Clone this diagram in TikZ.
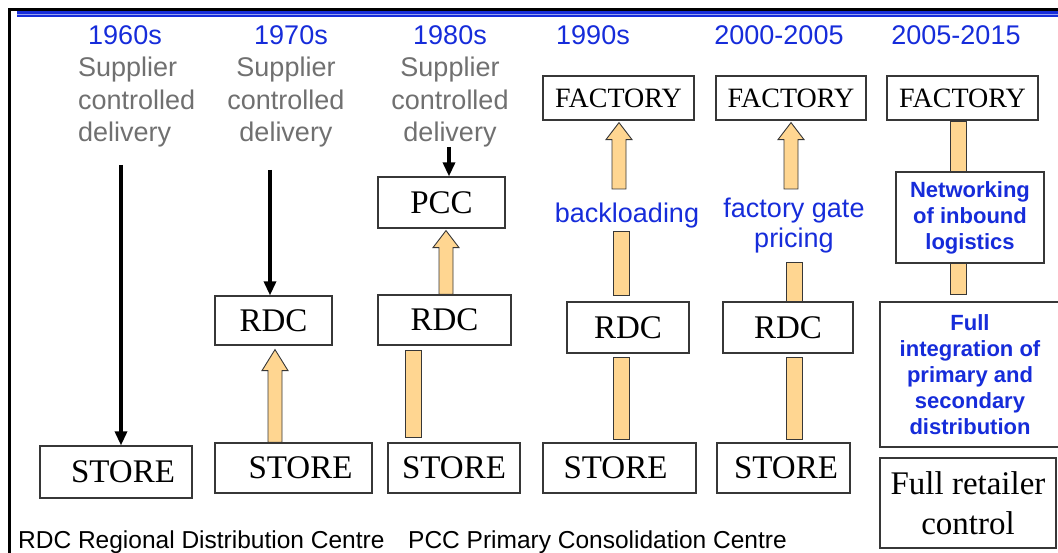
\documentclass[tikz,border=0pt]{standalone}
\usepackage{fontspec}
\setmainfont{Liberation Serif}
\newfontfamily\arial{Liberation Sans}
\usetikzlibrary{calc,arrows.meta}

\definecolor{eraBlue}{RGB}{22,44,218}
\definecolor{noteGray}{RGB}{112,112,112}
\definecolor{flowFill}{RGB}{255,214,145}
\definecolor{edgeGray}{RGB}{55,55,55}

% upward block arrow: optional head length, foot point, tip point
\newcommand{\blockup}[3][17]{%
  \draw[flow] let \p1=(#2), \p2=(#3) in
    (\x2-7pt,\y1) -- (\x2-7pt,\y2-#1pt) -- (\x2-13pt,\y2-#1pt) -- (\x2,\y2)
    -- (\x2+13pt,\y2-#1pt) -- (\x2+7pt,\y2-#1pt) -- (\x2+7pt,\y1) -- cycle;}
% plain bar between two points (x from the first, y span from both)
\newcommand{\flowbar}[2]{%
  \draw[flow] let \p1=(#1), \p2=(#2) in (\x1-8pt,\y1) rectangle (\x1+8pt,\y2);}

\begin{document}
\begin{tikzpicture}[x=1pt,y=-1pt,
  era/.style={font=\arial\fontsize{27}{32}\selectfont, text=eraBlue, anchor=base, inner sep=0pt},
  note/.style={font=\arial\fontsize{27}{32.5}\selectfont, text=noteGray, align=center, inner sep=0pt, anchor=north},
  tag/.style={font=\arial\fontsize{27}{30}\selectfont, text=eraBlue, align=center, inner sep=0pt, anchor=north},
  site/.style={draw=edgeGray, line width=1.2pt, fill=white, inner sep=0pt,
    font=\fontsize{33}{38}\selectfont},
  factory/.style={site, font=\fontsize{28}{32}\selectfont, minimum height=44pt},
  bluebox/.style={draw=edgeGray, line width=1.2pt, fill=white, inner sep=0pt, align=center,
    text=eraBlue, font=\arial\bfseries\fontsize{22}{26}\selectfont},
  flow/.style={draw=edgeGray, line width=0.9pt, fill=flowFill},
  push/.style={line width=3.2pt, -{Triangle[length=14pt,width=12pt]}},
  legend/.style={font=\arial\fontsize{24.5}{28}\selectfont, anchor=base west, inner sep=0pt}]

\useasboundingbox (0,0) rectangle (1058,553);

% frame and heading rule
\draw[line width=3pt] (9,553) -- (9,9.5) -- (1058,9.5);
\fill[eraBlue] (17,11.5) rectangle (1058,17.5);
\draw[eraBlue!45!white, line width=0.8pt] (17,14.3) -- (1058,14.3);

% decade headings
\node[era] (e1) at (125,45) {1960s};
\node[era] (e2) at (291,45) {1970s};
\node[era] (e3) at (450,45) {1980s};
\node[era] (e4) at (593,45) {1990s};
\node[era] (e5) at (779,45) {2000-2005};
\node[era] (e6) at (956,45) {2005-2015};

% supplier notes
\node[note, align=left, anchor=north west] (n1) at (78,57) {Supplier\\controlled\\delivery};
\node[note] (n2) at (286,57) {Supplier\\controlled\\delivery};
\node[note] (n3) at (450,57) {Supplier\\controlled\\delivery};

% stores
\node[site, minimum width=152pt, minimum height=52pt] (store1) at (116,472) {\hspace*{14pt}STORE};
\node[site, minimum width=157pt, minimum height=50pt] (store2) at (293.5,468) {\hspace*{14pt}STORE};
\node[site, minimum width=132pt, minimum height=50pt] (store3) at (454,468) {STORE};
\node[site, minimum width=153pt, minimum height=50pt] (store4) at (619.5,468) {STORE\hspace*{8pt}};
\node[site, minimum width=133pt, minimum height=50pt] (store5) at (783.5,468) {\hspace*{5pt}STORE};
\node[site, minimum width=176pt, minimum height=90pt, align=center,
      font=\fontsize{33}{40}\selectfont] (retail) at (968,503) {Full retailer\\control};

% regional distribution centres
\node[site, minimum width=117pt, minimum height=49pt] (rdc2) at (273.5,320.5) {RDC};
\node[site, minimum width=133pt, minimum height=50pt] (rdc3) at (444.5,320) {RDC};
\node[site, minimum width=122pt, minimum height=51pt] (rdc4) at (628,327.5) {RDC};
\node[site, minimum width=130pt, minimum height=51pt] (rdc5) at (788,327.5) {RDC};

% consolidation centre and factories
\node[site, minimum width=127pt, minimum height=51pt] (pcc) at (441.5,202.5) {PCC};
\node[factory, minimum width=151pt] (fac4) at (618.5,98) {FACTORY};
\node[factory, minimum width=150pt] (fac5) at (791,98) {FACTORY};
\node[factory, minimum width=151pt] (fac6) at (962.5,98) {FACTORY};

% 2005-2015 stages
\node[bluebox, minimum width=148pt, minimum height=91pt] (net) at (970,217.5)
  {Networking\\of inbound\\logistics};
\node[bluebox, minimum width=180pt, minimum height=145pt] (integ) at (970,374.5)
  {Full\\integration of\\primary and\\secondary\\distribution};

% captions
\node[tag] (back) at (627,203) {backloading};
\node[tag] (gate) at (794,198) {factory gate\\pricing};

% supplier deliveries
\coordinate (d1) at (121,165);
\coordinate (d2) at (270,170);
\coordinate (d3) at (449,147);
\draw[push] (d1) -- (d1 |- store1.north);
\draw[push] (d2) -- (d2 |- rdc2.north);
\draw[push] (d3) -- (d3 |- pcc.north);

% upward flows
\blockup[21]{store2.north}{$(rdc2.south)+(1.5,4)$}
\blockup{rdc3.north}{$(pcc.south)+(4.5,2)$}
\coordinate (f4) at (619,189);
\coordinate (f5) at (791,189);
\blockup{f4}{$(fac4.south)+(0.5,2)$}
\blockup{f5}{$(fac5.south)+(0,2)$}

% connecting bars
\flowbar{$(rdc3.south)+(-31,5)$}{$(store3.north)+(0,-5)$}
\flowbar{$(back.south)+(-5.5,3)$}{$(rdc4.north)+(0,-6)$}
\flowbar{$(rdc4.south)+(-6.5,4)$}{$(store4.north)+(0,-3)$}
\flowbar{$(rdc5.north)+(6,-39)$}{rdc5.north}
\flowbar{$(rdc5.south)+(6,4)$}{$(store5.north)+(0,-3)$}
\flowbar{$(fac6.south)+(-4,1)$}{net.north}
\flowbar{$(net.south)+(-11.5,0)$}{$(integ.north)+(0,-7)$}

% legend
\node[legend] (lg1) at (18,548) {RDC Regional Distribution Centre};
\node[legend] (lg2) at (408,548) {PCC Primary Consolidation Centre};
\end{tikzpicture}
\end{document}
